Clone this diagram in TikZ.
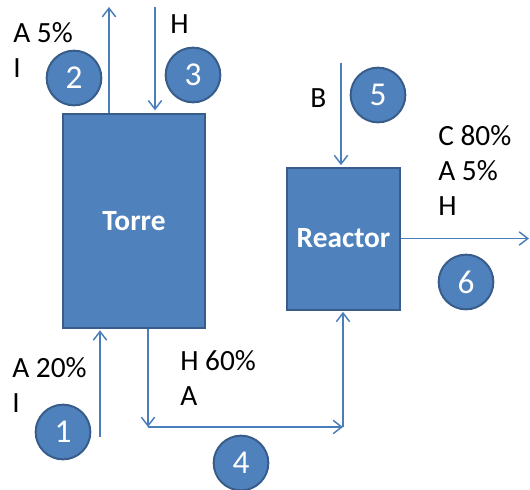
\documentclass[tikz,border=0pt]{standalone}
\usepackage{fontspec}
\setmainfont{Carlito}
\usetikzlibrary{arrows.meta}
\definecolor{unitfill}{HTML}{4F81BD}
\definecolor{unitedge}{HTML}{385D8A}
\definecolor{flowline}{HTML}{4A7EBB}
\tikzset{
  unitbox/.style={draw=unitedge, line width=1.5pt, fill=unitfill, text=white,
    font=\fontsize{22}{26}\selectfont\bfseries, inner sep=0pt},
  flow/.style={draw=flowline, line width=1.1pt,
    -{Straight Barb[length=6.5pt,width=10pt,line width=1.1pt]}},
  tag/.style={circle, draw=unitedge, line width=1.5pt, fill=unitfill, text=white,
    minimum size=41pt, inner sep=0pt, font=\fontsize{25}{28}\selectfont},
  % multi-line labels: base anchor sits on the last line
  lbl/.style={anchor=base west, inner sep=0pt, align=left,
    font=\fontsize{22}{26.25}\selectfont}
}
\begin{document}
\begin{tikzpicture}[x=0.75pt,y=-0.75pt]
\useasboundingbox (0,0) rectangle (530,489);

% process units
\node[unitbox, minimum width=106.5pt, minimum height=160.5pt] (torre) at (134,221) {Torre};
\node[unitbox, minimum width=84.75pt, minimum height=106.5pt] (reactor) at (343.5,238.5) {Reactor};

% free ends and bends of the streams
\coordinate (s2end) at (109,7);
\coordinate (s3start) at (155,7);
\coordinate (s1start) at (100,437);
\coordinate (c4a) at (148,427);
\coordinate (c4b) at (343,427);
\coordinate (s5start) at (341,63);
\coordinate (s6end) at (529,238.5);

% streams
\draw[flow] (torre.north -| s2end) -- (s2end);
\draw[flow, shorten >=2pt] (s3start) -- (s3start |- torre.north);
\draw[flow, shorten >=1pt] (s1start) -- (s1start |- torre.south);
\draw[flow] (torre.south -| c4a) -- (c4a);
\draw[flow] (c4a) -- (c4b);
\draw[flow, shorten >=1pt] (c4b) -- (c4b |- reactor.south);
\draw[flow, shorten >=1pt] (s5start) -- (s5start |- reactor.north);
\draw[flow] (reactor.east) -- (s6end);

% stream numbers
\node[tag] (n1) at (63,432) {1};
\node[tag] (n2) at (74,78) {2};
\node[tag] (n3) at (193,75) {3};
\node[tag] (n4) at (241,463) {4};
\node[tag] (n5) at (378,95) {5};
\node[tag] (n6) at (466,282) {6};

% compositions
\node[lbl] (t2) at (13,77) {A 5\%\\I};
\node[lbl] (t3) at (170,33) {H};
\node[lbl] (t5) at (310,107) {B};
\node[lbl] (t6) at (438,215) {C 80\%\\A 5\%\\H};
\node[lbl] (t1) at (12,412) {A 20\%\\I};
\node[lbl] (t4) at (180,405) {H 60\%\\A};
\end{tikzpicture}
\end{document}
